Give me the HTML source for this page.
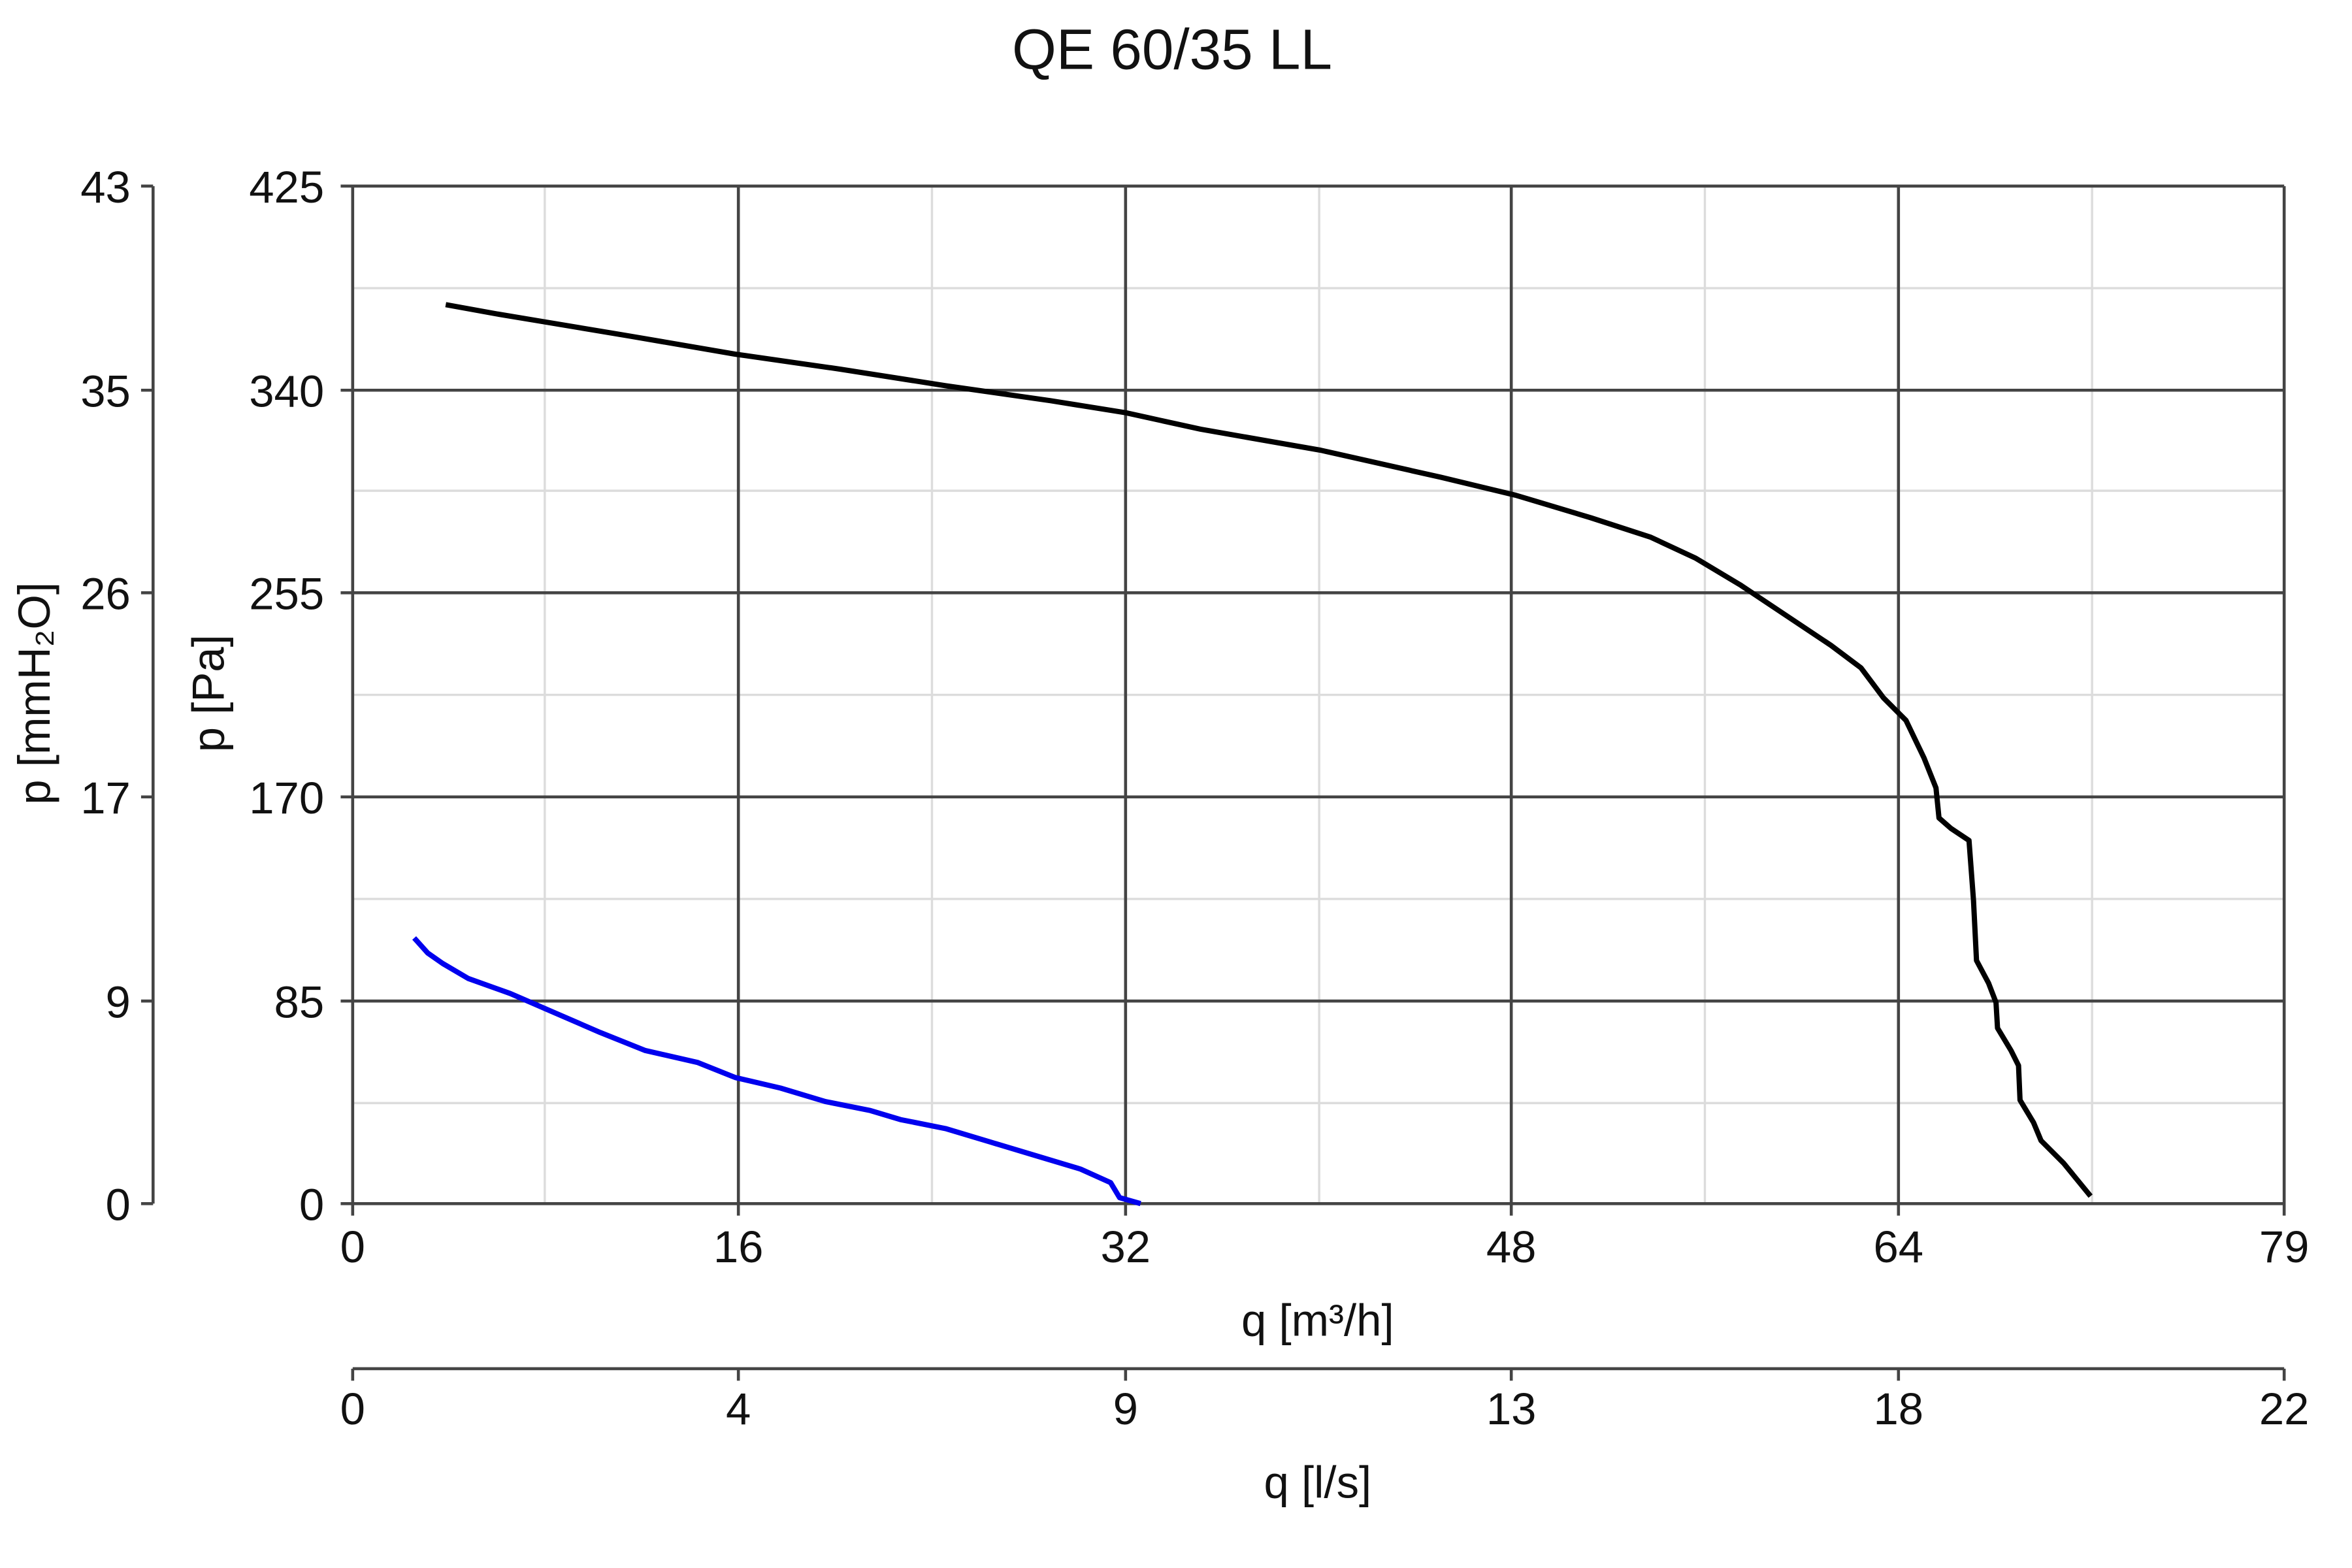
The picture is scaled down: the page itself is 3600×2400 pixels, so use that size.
<!DOCTYPE html>
<html><head><meta charset="utf-8"><style>html,body{margin:0;padding:0;background:#fff}svg{display:block}</style></head>
<body>
<svg width="3600" height="2400" viewBox="0 0 1567.2 1044.8" preserveAspectRatio="none" xmlns="http://www.w3.org/2000/svg" font-family="Liberation Sans, Arial, sans-serif">
<rect width="1567.2" height="1044.8" fill="#fff"/>
<g stroke="#dcdcdc" stroke-width="1.5">
<line x1="363" y1="124" x2="363" y2="802"/><line x1="621" y1="124" x2="621" y2="802"/><line x1="879" y1="124" x2="879" y2="802"/><line x1="1136" y1="124" x2="1136" y2="802"/><line x1="1394" y1="124" x2="1394" y2="802"/>
<line x1="235" y1="192" x2="1522" y2="192"/><line x1="235" y1="327" x2="1522" y2="327"/><line x1="235" y1="463" x2="1522" y2="463"/><line x1="235" y1="599" x2="1522" y2="599"/><line x1="235" y1="735" x2="1522" y2="735"/>
</g>
<g stroke="#444" stroke-width="2">
<line x1="492" y1="124" x2="492" y2="802"/><line x1="750" y1="124" x2="750" y2="802"/><line x1="1007" y1="124" x2="1007" y2="802"/><line x1="1265" y1="124" x2="1265" y2="802"/><line x1="1522" y1="124" x2="1522" y2="810"/>
<line x1="227" y1="124" x2="1522" y2="124"/><line x1="227" y1="260" x2="1522" y2="260"/><line x1="227" y1="395" x2="1522" y2="395"/><line x1="227" y1="531" x2="1522" y2="531"/><line x1="227" y1="667" x2="1522" y2="667"/><line x1="227" y1="802" x2="1522" y2="802"/>
<line x1="235" y1="124" x2="235" y2="810"/>
<line x1="492" y1="802" x2="492" y2="810"/><line x1="750" y1="802" x2="750" y2="810"/><line x1="1007" y1="802" x2="1007" y2="810"/><line x1="1265" y1="802" x2="1265" y2="810"/>
<line x1="102" y1="124" x2="102" y2="802"/>
<line x1="94" y1="124" x2="102" y2="124"/><line x1="94" y1="260" x2="102" y2="260"/><line x1="94" y1="395" x2="102" y2="395"/><line x1="94" y1="531" x2="102" y2="531"/><line x1="94" y1="667" x2="102" y2="667"/><line x1="94" y1="802" x2="102" y2="802"/>
<line x1="235" y1="912" x2="1522" y2="912"/>
<line x1="235" y1="912" x2="235" y2="920"/><line x1="492" y1="912" x2="492" y2="920"/><line x1="750" y1="912" x2="750" y2="920"/><line x1="1007" y1="912" x2="1007" y2="920"/><line x1="1265" y1="912" x2="1265" y2="920"/><line x1="1522" y1="912" x2="1522" y2="920"/>
</g>
<polyline fill="none" stroke="#000" stroke-width="3.5" stroke-linejoin="round" points="297,203 330,209 360,214 420,224 490,236 560,246 630,257 700,267 750,275 800,286 880,300 960,318 1010,330 1060,345 1100,358 1130,372 1160,390 1190,410 1220,430 1240,445 1255,465 1270,480 1282,505 1290,525 1292,545 1300,552 1312,560 1315,600 1317,640 1325,655 1330,668 1331,685 1340,700 1345,710 1346,733 1355,748 1360,760 1375,775 1393,797"/>
<polyline fill="none" stroke="#0000ee" stroke-width="3.5" stroke-linejoin="round" points="276,625 285,635 295,642 312,652 340,662 370,675 400,688 430,700 465,708 490,718 520,725 550,734 580,740 600,746 630,752 660,761 690,770 720,779 740,788 746,798 760,802"/>
<g font-size="30" fill="#111">
<text x="781" y="46" text-anchor="middle" font-size="38">QE 60/35 LL</text>
<g text-anchor="end">
<text x="87" y="135">43</text><text x="87" y="271">35</text><text x="87" y="406">26</text><text x="87" y="542">17</text><text x="87" y="678">9</text><text x="87" y="813">0</text>
<text x="216" y="135">425</text><text x="216" y="271">340</text><text x="216" y="406">255</text><text x="216" y="542">170</text><text x="216" y="678">85</text><text x="216" y="813">0</text>
</g>
<g text-anchor="middle">
<text x="235" y="841">0</text><text x="492" y="841">16</text><text x="750" y="841">32</text><text x="1007" y="841">48</text><text x="1265" y="841">64</text><text x="1522" y="841">79</text>
<text x="878" y="890">q [m³/h]</text>
<text x="235" y="949">0</text><text x="492" y="949">4</text><text x="750" y="949">9</text><text x="1007" y="949">13</text><text x="1265" y="949">18</text><text x="1522" y="949">22</text>
<text x="878" y="998">q [l/s]</text>
<text transform="translate(33,462) rotate(-90)">p [mmH₂O]</text>
<text transform="translate(149,462) rotate(-90)">p [Pa]</text>
</g>
</g>
</svg>
</body></html>
